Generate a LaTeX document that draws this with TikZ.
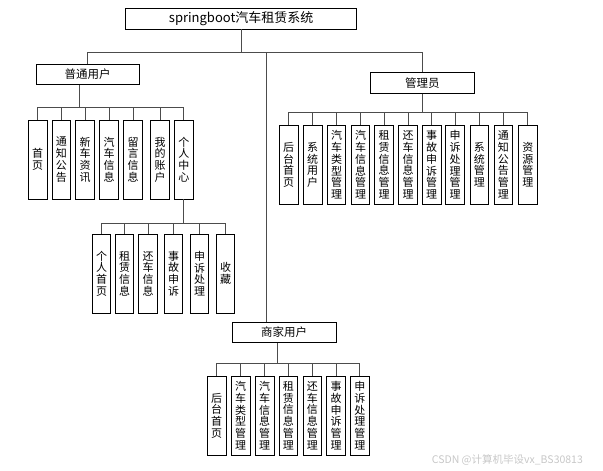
\documentclass[tikz,border=0pt]{standalone}
\usepackage{fontspec}
\setmainfont{Noto Sans CJK SC}

\begin{document}
\begin{tikzpicture}[x=1pt, y=-1pt, every node/.style={inner sep=0pt}]
\tikzset{titlebox/.style={draw, line width=0.8pt, minimum width=231pt, minimum height=20.7pt, font=\fontsize{13}{15}\selectfont}}
\tikzset{rolebox/.style={draw, line width=0.8pt, minimum width=103.5pt, minimum height=20.5pt, font=\fontsize{11.5}{13}\selectfont}}
\tikzset{leaf/.style={draw, line width=0.8pt, minimum width=18.7pt, minimum height=79pt, align=center, font=\fontsize{11}{11.7}\selectfont}}
\tikzset{ln/.style={draw=black!70, line width=0.9pt}}
\useasboundingbox (0,0) rectangle (603,471);
\node[titlebox] (sys) at (241.2,18.7) {springboot汽车租赁系统};
\node[rolebox] (pu) at (87.7,74.2) {普通用户};
\node[rolebox] (gly) at (422.3,83) {管理员};
\node[rolebox] (sj) at (284.2,332.3) {商家用户};
\node[leaf] (u1) at (37.7,159.5) {首\\页};
\node[leaf] (u2) at (61.5,159.5) {通\\知\\公\\告};
\node[leaf] (u3) at (85.2,159.5) {新\\车\\资\\讯};
\node[leaf] (u4) at (109,159.5) {汽\\车\\信\\息};
\node[leaf] (u5) at (133,159.5) {留\\言\\信\\息};
\node[leaf] (u6) at (160,159.5) {我\\的\\账\\户};
\node[leaf] (u7) at (183.8,159.5) {个\\人\\中\\心};
\node[leaf] (p1) at (101.5,273.5) {个\\人\\首\\页};
\node[leaf] (p2) at (124.5,273.5) {租\\赁\\信\\息};
\node[leaf] (p3) at (148.2,273.5) {还\\车\\信\\息};
\node[leaf] (p4) at (173.5,273.5) {事\\故\\申\\诉};
\node[leaf] (p5) at (199.5,273.5) {申\\诉\\处\\理};
\node[leaf] (p6) at (225.5,273.5) {收\\藏};
\node[leaf] (g1) at (288.7,164.8) {后\\台\\首\\页};
\node[leaf] (g2) at (312.7,164.8) {系\\统\\用\\户};
\node[leaf] (g3) at (336.5,164.8) {汽\\车\\类\\型\\管\\理};
\node[leaf] (g4) at (360.5,164.8) {汽\\车\\信\\息\\管\\理};
\node[leaf] (g5) at (384.2,164.8) {租\\赁\\信\\息\\管\\理};
\node[leaf] (g6) at (408,164.8) {还\\车\\信\\息\\管\\理};
\node[leaf] (g7) at (431.7,164.8) {事\\故\\申\\诉\\管\\理};
\node[leaf] (g8) at (455.2,164.8) {申\\诉\\处\\理\\管\\理};
\node[leaf] (g9) at (479.3,164.8) {系\\统\\管\\理};
\node[leaf] (g10) at (503.3,164.8) {通\\知\\公\\告\\管\\理};
\node[leaf] (g11) at (527.8,164.8) {资\\源\\管\\理};
\node[leaf] (s1) at (216.7,415.5) {后\\台\\首\\页};
\node[leaf] (s2) at (240.7,415.5) {汽\\车\\类\\型\\管\\理};
\node[leaf] (s3) at (264.7,415.5) {汽\\车\\信\\息\\管\\理};
\node[leaf] (s4) at (288.3,415.5) {租\\赁\\信\\息\\管\\理};
\node[leaf] (s5) at (312.3,415.5) {还\\车\\信\\息\\管\\理};
\node[leaf] (s6) at (336,415.5) {事\\故\\申\\诉\\管\\理};
\node[leaf] (s7) at (359.8,415.5) {申\\诉\\处\\理\\管\\理};
\node[anchor=west, text=black!22, font=\fontsize{10.5}{12}\selectfont] (wm) at (431.7,460) {CSDN @计算机毕设vx\_BS30813};
\path (sys.south) ++(0,23.3) coordinate (b0);
\path ([xshift=-8.4pt]pu.south) ++(0,22.4) coordinate (ub);
\path (u7.south) ++(0,24.3) coordinate (pb);
\path (gly.south) ++(0,19) coordinate (gb);
\path ([xshift=-6.9pt]sj.south) ++(0,20) coordinate (sb);
\draw[ln] (sys.south) -- (b0);
\draw[ln] (pu.north) |- (b0) -| (gly.north);
\draw[ln] ([xshift=-17.5pt]sj.north) |- (b0);
\draw[ln] ([xshift=-8.4pt]pu.south) -- (ub);
\draw[ln] (u1.north) |- (ub) -| (u7.north) (u2.north) |- (ub) (u3.north) |- (ub) (u4.north) |- (ub) (u5.north) |- (ub) (u6.north) |- (ub);
\draw[ln] (u7.south) -- (pb);
\draw[ln] (p1.north) |- (pb) -| (p6.north) (p2.north) |- (pb) (p3.north) |- (pb) (p4.north) |- (pb) (p5.north) |- (pb);
\draw[ln] (gly.south) -- (gb);
\draw[ln] (g1.north) |- (gb) -| (g11.north) (g2.north) |- (gb) (g3.north) |- (gb) (g4.north) |- (gb) (g5.north) |- (gb) (g6.north) |- (gb) (g7.north) |- (gb) (g8.north) |- (gb) (g9.north) |- (gb) (g10.north) |- (gb);
\draw[ln] ([xshift=-6.9pt]sj.south) -- (sb);
\draw[ln] (s1.north) |- (sb) -| (s7.north) (s2.north) |- (sb) (s3.north) |- (sb) (s4.north) |- (sb) (s5.north) |- (sb) (s6.north) |- (sb);
\end{tikzpicture}
\end{document}
